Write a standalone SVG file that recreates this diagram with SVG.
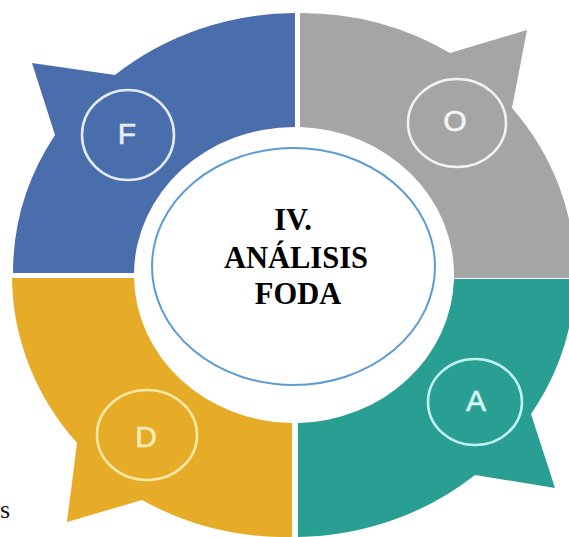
<svg xmlns="http://www.w3.org/2000/svg" width="569" height="537" viewBox="0 0 569 537">
  <style>
    .ring { stroke: none; }
    .badge { fill: none; stroke-width: 2.6; }
    .letter { font-family: "Liberation Sans", Arial, sans-serif; font-size: 30px; text-anchor: middle; stroke-width: 0.6; }
    .title { font-family: "Liberation Serif", "Times New Roman", serif; font-size: 30.5px; font-weight: bold; text-anchor: middle; fill: #000; }
  </style>
  <rect x="0" y="0" width="569" height="537" fill="#ffffff"/>
  <g id="node-F">
    <path class="ring" fill="#4a6dac" d="M 295,13 A 281 262 0 0 0 115,75 L 32,63 L 55,135 A 281 262 0 0 0 13,273 L 134,273 A 160 148 0 0 1 295,127 Z"/>
    <ellipse class="badge" cx="128" cy="135" rx="46" ry="45" stroke="#e3e9f5"/>
    <text class="letter" x="127" y="144" fill="#e6ecf7" stroke="#e6ecf7">F</text>
  </g>
  <g id="node-O">
    <path class="ring" fill="#a5a5a5" d="M 300,13 A 281 262 0 0 1 450,53 L 527,30 L 512,108 A 281 262 0 0 1 575,278 L 454,278 A 160 148 0 0 0 300,127 Z"/>
    <ellipse class="badge" cx="457" cy="123" rx="49" ry="44" stroke="#f2f2f2"/>
    <text class="letter" x="455" y="131" fill="#f4f4f4" stroke="#f4f4f4">O</text>
  </g>
  <g id="node-A">
    <path class="ring" fill="#299e93" d="M 575,279 A 281 262 0 0 1 531,414 L 555,488 L 475,475 A 281 262 0 0 1 298,537 L 298,423 A 160 148 0 0 0 454,279 Z"/>
    <ellipse class="badge" cx="475" cy="402" rx="47" ry="43" stroke="#c2f2ef"/>
    <text class="letter" x="476" y="411" fill="#d8f6f4" stroke="#d8f6f4">A</text>
  </g>
  <g id="node-D">
    <path class="ring" fill="#e6ab27" d="M 12,278 A 281 262 0 0 0 77,443 L 67,522 L 142,500 A 281 262 0 0 0 292,537 L 292,423 A 160 148 0 0 1 134,278 Z"/>
    <ellipse class="badge" cx="147" cy="435" rx="50" ry="45" stroke="#fbe9a6"/>
    <text class="letter" x="146" y="447" fill="#fbecb6" stroke="#fbecb6">D</text>
  </g>
  <g id="node-center">
    <ellipse cx="293.5" cy="266.5" rx="141.5" ry="118.5" fill="#ffffff" stroke="#5b9bd5" stroke-width="2"/>
    <text class="title" x="293" y="230">IV.</text>
    <text class="title" x="296" y="268">ANÁLISIS</text>
    <text class="title" x="298" y="304">FODA</text>
  </g>
  <g id="connectors"/>
  <text x="0" y="518" font-family="Liberation Serif, 'Times New Roman', serif" font-size="26" fill="#111">s</text>
</svg>
